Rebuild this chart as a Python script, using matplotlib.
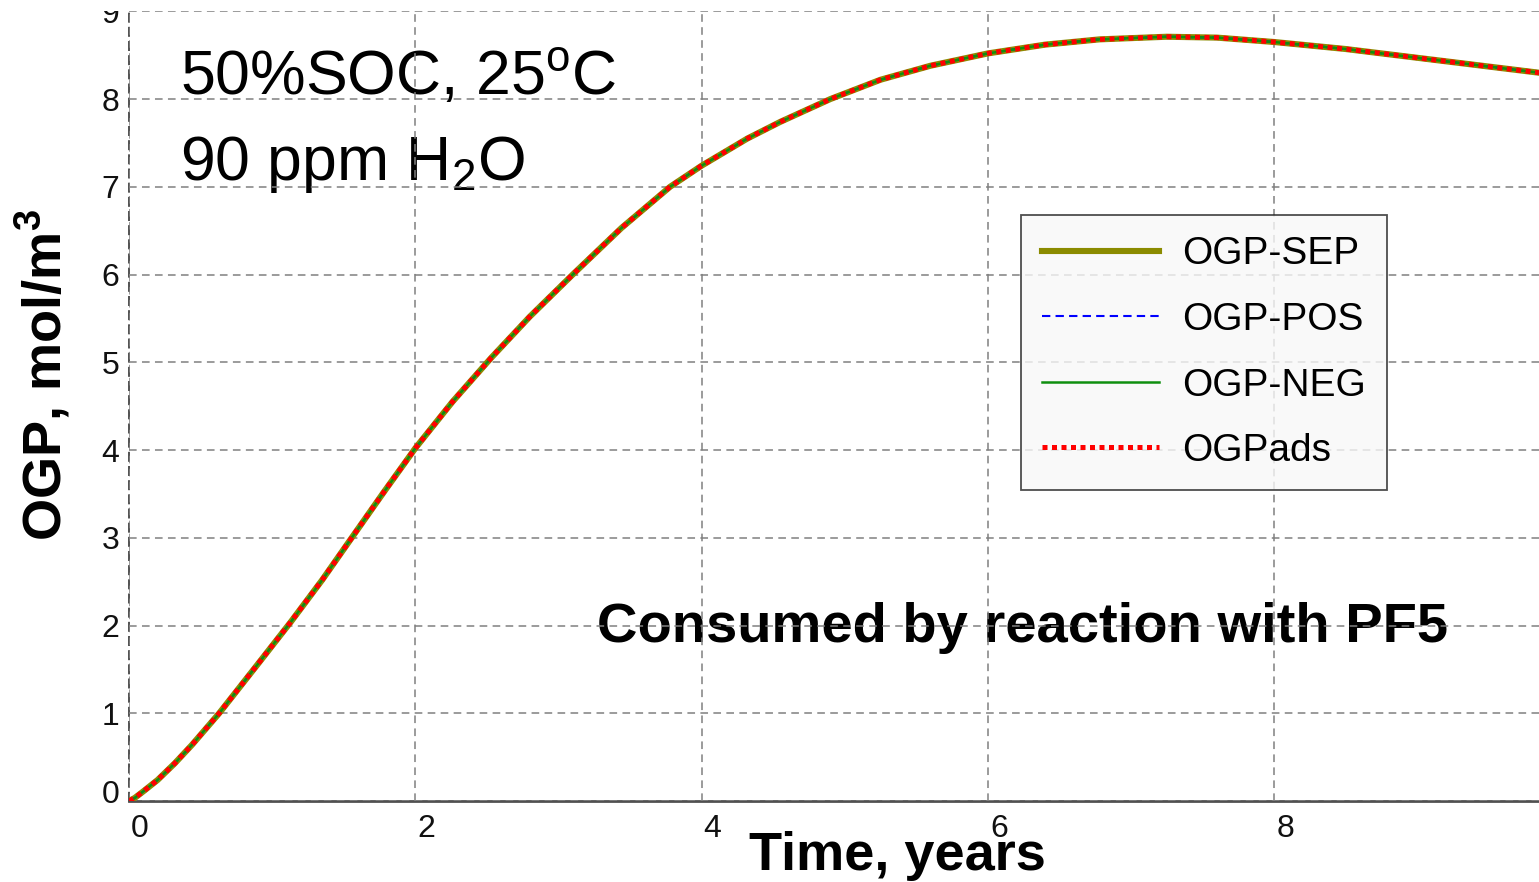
import matplotlib
matplotlib.use('Agg')
import matplotlib.pyplot as plt
from matplotlib.transforms import ScaledTranslation, Bbox, TransformedBbox

plt.rcParams['font.family'] = ['Liberation Sans', 'DejaVu Sans']
plt.rcParams['mathtext.fontset'] = 'custom'
plt.rcParams['mathtext.rm'] = 'Liberation Sans'
plt.rcParams['mathtext.bf'] = 'Liberation Sans:bold'

# OGP concentration (mol/m3) vs storage time at 50% SOC, 25 C, 90 ppm water
time_years = [0.0, 0.04, 0.1, 0.2, 0.32, 0.44, 0.63, 0.9, 1.13, 1.35, 1.556,
              1.78, 2.0, 2.26, 2.53, 2.8, 3.1, 3.44, 3.78, 4.0, 4.32, 4.55,
              4.9, 5.25, 5.6, 6.0, 6.4, 6.78, 7.25, 7.6, 8.0, 8.5, 9.0,
              9.5, 9.85]
ogp_sep = [0.0, 0.035, 0.11, 0.24, 0.43, 0.64, 1.0, 1.56, 2.04, 2.52, 3.0,
           3.52, 4.02, 4.55, 5.05, 5.52, 6.0, 6.53, 7.0, 7.24, 7.55, 7.74,
           8.0, 8.22, 8.38, 8.52, 8.62, 8.68, 8.71, 8.7, 8.65, 8.57, 8.47,
           8.37, 8.3]
# separator, electrodes and adsorbed OGP all sit on the same curve
ogp_pos = ogp_sep
ogp_neg = ogp_sep
ogp_ads = ogp_sep

x_ticks = [0, 2, 4, 6, 8]
y_ticks = list(range(10))

fig = plt.figure(figsize=(15.39, 8.82), dpi=100)
ax = fig.add_axes([0.0838, 0.0918, 0.9162, 0.8954])

ax.plot(time_years, ogp_sep, color='#8b8b00', lw=4.4, label='OGP-SEP', zorder=3)
ax.plot(time_years, ogp_pos, color='#0000ff', lw=1.5, ls=(0, (4, 2.5)), label='OGP-POS', zorder=3.1)
ax.plot(time_years, ogp_neg, color='#0f8f0f', lw=1.8, label='OGP-NEG', zorder=3.2)
ax.plot(time_years, ogp_ads, color='#ff0000', lw=3.6, ls=(0, (1.0, 0.9)), label='OGPads', zorder=3.3)

ax.set_xlim(0, 9.85)
ax.set_ylim(0, 9)
ax.set_xticks(x_ticks)
ax.set_yticks(y_ticks)
ax.tick_params(length=0, labelsize=23, labelcolor='#111111')
ax.tick_params(axis='x', pad=9)
ax.tick_params(axis='y', pad=7)

ax.grid(True, color='#808080', ls=(0, (5, 3.5)), lw=1.1)
ax.set_axisbelow(False)
for side in ['top', 'right']:
    ax.spines[side].set_visible(False)
ax.spines['left'].set_linestyle((0, (5, 3.5)))
ax.spines['left'].set_color('#333333')
ax.spines['left'].set_linewidth(1.2)
ax.spines['bottom'].set_color('#505050')
ax.spines['bottom'].set_linewidth(2)

# x tick labels sit a little right of their grid lines
shift_x = ScaledTranslation(0.11, 0, fig.dpi_scale_trans)
for lab in ax.get_xticklabels():
    lab.set_transform(lab.get_transform() + shift_x)
ylabs = ax.get_yticklabels()
ylabs[0].set_transform(ylabs[0].get_transform() + ScaledTranslation(0, 0.10, fig.dpi_scale_trans))
# top label is cut off at the plot's upper edge
top_clip = TransformedBbox(Bbox.from_extents(0, 0, 1, 0.9872), fig.transFigure)
ylabs[-1].set_clip_box(top_clip)
ylabs[-1].set_clip_on(True)

ax.set_xlabel('Time, years', fontsize=39, fontweight='bold')
ax.xaxis.label.set_va('center')
ax.xaxis.set_label_coords(0.545, -0.0695)
ax.set_ylabel(r'OGP, mol/m$^\mathbf{3}$', fontsize=39, fontweight='bold')
ax.yaxis.label.set_va('center')
ax.yaxis.set_label_coords(-0.0617, 0.539)

ax.text(0.0362, 0.894, r'50%SOC, 25$^\mathregular{o}$C', fontsize=45,
        transform=ax.transAxes, va='baseline', zorder=1)
ax.text(0.0362, 0.786, r'90 ppm H$_\mathregular{2}$O', fontsize=45,
        transform=ax.transAxes, va='baseline', zorder=1)
ax.text(0.332, 0.201, 'Consumed by reaction with PF5', fontsize=40.4,
        fontweight='bold', transform=ax.transAxes, va='baseline', zorder=1)

leg = ax.legend(loc='upper left', bbox_to_anchor=(0.6326, 0.742), fontsize=28,
                handlelength=3.0, handletextpad=0.59, labelspacing=0.76,
                borderpad=0.55, borderaxespad=0, fancybox=False, framealpha=0.8,
                facecolor='#f8f8f8', edgecolor='#222222')
leg.get_frame().set_linewidth(1.3)

fig.savefig('out.png', dpi=100)
